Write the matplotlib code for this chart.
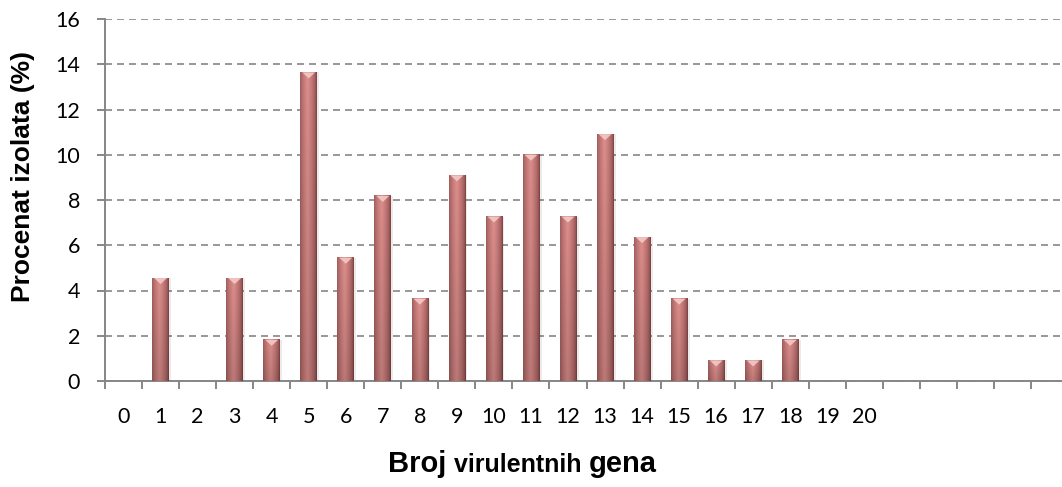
import matplotlib
matplotlib.use('Agg')
import matplotlib.pyplot as plt
from matplotlib.patches import Polygon
import numpy as np

# broj virulentnih gena -> procenat izolata
geni = list(range(0, 21))
procenat = [0, 4.55, 0, 4.55, 1.82, 13.64, 5.45, 8.18, 3.64, 9.09, 7.27,
            10.0, 7.27, 10.91, 6.36, 3.64, 0.91, 0.91, 1.82, 0, 0]
prazno = 5  # prazna mesta na kraju ose
yticks = [0, 2, 4, 6, 8, 10, 12, 14, 16]

W, H = 1062, 487
fig = plt.figure(figsize=(W / 100, H / 100), dpi=100)
n_slots = len(geni) + prazno
slot = 37.04
ax = fig.add_axes([105 / W, 1 - 381 / H, n_slots * slot / W, (381 - 19) / H])

gray = '#868686'
for s in ['top', 'right']:
    ax.spines[s].set_visible(False)
for s in ['left', 'bottom']:
    ax.spines[s].set_color(gray)
    ax.spines[s].set_linewidth(1.4)

ax.set_xlim(-0.5, n_slots - 0.5)
ax.set_ylim(0, 16)
ax.set_yticks(yticks)
ax.yaxis.grid(True, color=gray, linewidth=1.2, linestyle=(0, (4.2, 3.0)))
ax.set_axisbelow(True)

ax.set_xticks(geni)
ax.set_xticklabels([str(g) for g in geni])
ax.set_xticks(np.arange(-0.5, n_slots, 1), minor=True)
ax.tick_params(axis='x', which='major', length=0, pad=19)
ax.tick_params(axis='x', which='minor', length=5.5, width=1.4, color=gray, direction='out')
ax.tick_params(axis='y', length=6, width=1.4, color=gray, direction='out', pad=12)
for lab in ax.get_xticklabels() + ax.get_yticklabels():
    lab.set_fontfamily('Lato')
    lab.set_fontsize(15.5)

# sencen stubac (cilindar)
bw = 0.45
t = np.linspace(0, 1, 60)
prof = np.clip(1 - np.abs(t - 0.45) / 0.55, 0, 1) ** 0.5
dark = np.array([0.45, 0.22, 0.22])
light = np.array([0.87, 0.56, 0.55])
row = dark + (light - dark) * prof[:, None]
vert = np.linspace(1.0, 0.85, 80)
img = vert[:, None, None] * row[None, :, :]
img = np.clip(img, 0, 1)

px_y = 16 / 362.0
for g, v in zip(geni, procenat):
    if v <= 0:
        continue
    # senka
    ax.bar(g + 0.06, v, width=bw, color='#000000', alpha=0.08, zorder=2)
    ax.imshow(img, extent=[g - bw / 2, g + bw / 2, 0, v], aspect='auto',
              origin='upper', zorder=3, interpolation='bilinear')
    tri = Polygon([[g - bw / 2 + 0.05, v], [g + bw / 2 - 0.05, v], [g, v - 6 * px_y]],
                  closed=True, color='#f3c9c7', alpha=0.9, zorder=4, lw=0)
    ax.add_patch(tri)
ax.set_xlim(-0.5, n_slots - 0.5)
ax.set_ylim(0, 16)

fig.text(23 / W, 1 - 176 / H, 'Procenat izolata (%)', rotation=90,
         ha='center', va='center', fontsize=19, fontweight='bold',
         family='Liberation Sans')

# naslov x ose, delovi razlicite velicine
delovi = [('Broj ', 21), ('virulentnih ', 18), ('gena', 21)]
r = fig.canvas.get_renderer()
sirine = []
for txt, fs in delovi:
    tt = fig.text(0, 0, txt, fontsize=fs, fontweight='bold', family='Liberation Sans')
    sirine.append(tt.get_window_extent(renderer=r).width)
    tt.remove()
x0 = 522 - sum(sirine) / 2
for (txt, fs), w in zip(delovi, sirine):
    fig.text(x0 / W, 1 - 472 / H, txt, fontsize=fs, fontweight='bold',
             family='Liberation Sans', va='baseline', ha='left')
    x0 += w

fig.savefig('out.png', dpi=100)
